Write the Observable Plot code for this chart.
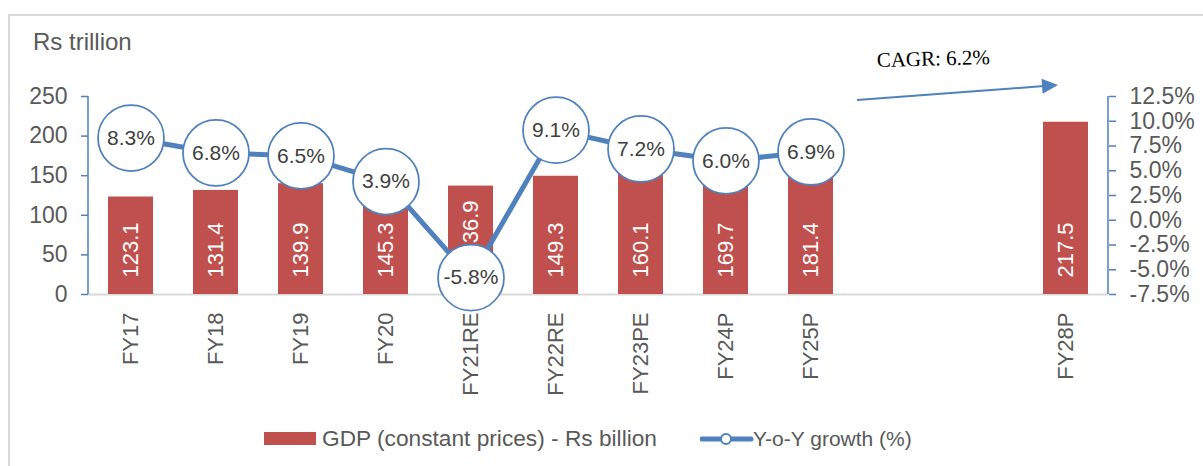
<!DOCTYPE html>
<html><head><meta charset="utf-8">
<script src="https://cdn.jsdelivr.net/npm/d3@7"></script>
<script src="https://cdn.jsdelivr.net/npm/@observablehq/plot@0.6"></script>
<style>
body{margin:0;background:#fff;}
#wrap{position:relative;width:1203px;height:466px;overflow:hidden;font-family:"Liberation Sans",Arial,sans-serif;background:#fff;}
.bl{position:absolute;left:8px;top:14px;width:2px;height:460px;background:#d9d9d9;}
.bt{position:absolute;left:8px;top:14px;width:1200px;height:2px;background:#d9d9d9;}
#unit{position:absolute;left:33px;top:30px;font-size:24px;line-height:24px;color:#595959;white-space:nowrap;}
#cagr{position:absolute;left:877px;top:50px;font-family:"Liberation Serif","Times New Roman",serif;font-size:21px;line-height:21px;color:#000;white-space:nowrap;transform:rotate(-1.5deg);transform-origin:left bottom;}
#chart{position:absolute;left:0;top:0;}
#legend{position:absolute;left:0;top:424px;width:1203px;height:30px;color:#595959;}
#legend .sw{position:absolute;left:264px;top:8px;width:52px;height:13px;background:#c0504d;}
#legend .t1{position:absolute;left:322px;top:3px;font-size:22.7px;line-height:23px;white-space:nowrap;}
#legend svg{position:absolute;left:700px;top:6px;}
#legend .t2{position:absolute;left:753px;top:3px;font-size:21px;line-height:23px;white-space:nowrap;}
</style></head><body>
<div id="wrap">
  <div class="bl"></div><div class="bt"></div>
  <div id="chart"></div>
  <div id="unit">Rs trillion</div>
  <div id="cagr">CAGR: 6.2%</div>
  <div id="legend">
    <div class="sw"></div><div class="t1">GDP (constant prices) - Rs billion</div>
    <svg width="54" height="18"><line x1="2" y1="9" x2="51" y2="9" stroke="#4f81bd" stroke-width="5" stroke-linecap="round"/><circle cx="26" cy="9" r="5" fill="#fff" stroke="#4f81bd" stroke-width="2"/></svg>
    <div class="t2">Y-o-Y growth (%)</div>
  </div>
</div>
<script>
// ---- data ----
const years  = ["FY17","FY18","FY19","FY20","FY21RE","FY22RE","FY23PE","FY24P","FY25P","FY26","FY27","FY28P"];
const xLabels = ["FY17","FY18","FY19","FY20","FY21RE","FY22RE","FY23PE","FY24P","FY25P","","","FY28P"];
const gdp    = [123.1,131.4,139.9,145.3,136.9,149.3,160.1,169.7,181.4,null,null,217.5];
const growth = [8.3,6.8,6.5,3.9,-5.8,9.1,7.2,6.0,6.9,null,null,null];
const gdpTicks = [0,50,100,150,200,250];
const growthTicks = [-7.5,-5,-2.5,0,2.5,5,7.5,10,12.5];
const cagr = {from:"FY25P", to:"FY28P", v1:240.5, v2:264.6};

// ---- build ----
const gMin = -7.5, gMax = 12.5, yMax = 250;
const gy = g => (g - gMin) / (gMax - gMin) * yMax;
const gInv = v => v / yMax * (gMax - gMin) + gMin;

const rows = years.map((year,i) => ({year, label:xLabels[i], gdp:gdp[i], growth:growth[i]}));
const bars = rows.filter(d => d.gdp != null);
const pts  = rows.filter(d => d.growth != null);
const raised = new Set(["FY21RE"]);

const BLUE = "#4f81bd", RED = "#c0504d", GREY = "#595959";

function axisLines(index, {x, y}, values, dim) {
  const g = d3.create("svg:g");
  const xl = dim.marginLeft, xr = dim.width - dim.marginRight;
  [xl, xr].forEach(px => g.append("line")
    .attr("x1", px).attr("x2", px).attr("y1", y(0)).attr("y2", y(yMax))
    .attr("stroke", BLUE).attr("stroke-width", 1.5));
  return g.node();
}

function cagrArrow(index, {x, y}, values, dim) {
  const bw = x.bandwidth ? x.bandwidth() / 2 : 0;
  let x1 = x(cagr.from) + bw, x2 = x(cagr.to) + bw, y1 = y(cagr.v1), y2 = y(cagr.v2);
  const dx = x2 - x1, dy = y2 - y1, L = Math.hypot(dx, dy), ux = dx / L, uy = dy / L;
  const sx = x1 + ux * 46.6, sy = y1 + uy * 46.6;
  const ex = x2 - ux * 7.5, ey = y2 - uy * 7.5;
  const head = 16, hw = 7.5;
  const bx = ex - ux * head, by = ey - uy * head;
  const g = d3.create("svg:g");
  g.append("line").attr("x1", sx).attr("y1", sy).attr("x2", bx + ux * 2).attr("y2", by + uy * 2)
    .attr("stroke", BLUE).attr("stroke-width", 2);
  g.append("polygon").attr("fill", BLUE)
    .attr("points", `${ex},${ey} ${bx - uy * hw},${by + ux * hw} ${bx + uy * hw},${by - ux * hw}`);
  return g.node();
}

const chart = Plot.plot({
  width: 1203, height: 410,
  marginLeft: 88, marginRight: 95, marginTop: 96, marginBottom: 116,
  x: {type: "band", domain: years, paddingInner: 0.47, paddingOuter: 0.235, axis: null},
  y: {domain: [0, yMax]},
  style: {fontFamily: '"Liberation Sans", Arial, sans-serif', background: "transparent", overflow: "visible"},
  marks: [
    Plot.ruleY([0], {stroke: "#d9d9d9", strokeWidth: 2}),
    Plot.barY(bars, {x: "year", y: "gdp", fill: RED}),
    Plot.text(bars.filter(d => !raised.has(d.year)), {x: "year", y: 0, text: d => d.gdp.toFixed(1), rotate: -90, textAnchor: "start", dy: -17, fill: "white", fontSize: 22}),
    Plot.text(bars.filter(d => raised.has(d.year)), {x: "year", y: 0, text: d => d.gdp.toFixed(1), rotate: -90, textAnchor: "start", dy: -39, fill: "white", fontSize: 22}),
    Plot.line(pts, {x: "year", y: d => gy(d.growth), stroke: BLUE, strokeWidth: 5}),
    Plot.dot(pts, {x: "year", y: d => gy(d.growth), r: 33, fill: "white", stroke: BLUE, strokeWidth: 1.75}),
    Plot.text(pts, {x: "year", y: d => gy(d.growth), text: d => d.growth.toFixed(1) + "%", fontSize: 21, fill: "#404040"}),
    Plot.text(rows, {x: "year", y: 0, text: "label", rotate: -90, textAnchor: "end", dy: 18, fontSize: 22, fill: GREY}),
    Plot.axisY(gdpTicks, {anchor: "left", tickSize: 7, tickPadding: 14, stroke: BLUE, strokeWidth: 1.5, color: GREY, fontSize: 23, label: null}),
    Plot.axisY(growthTicks.map(gy), {anchor: "right", tickSize: 7, tickPadding: 14, stroke: BLUE, strokeWidth: 1.5, color: GREY, fontSize: 23, label: null, tickFormat: v => gInv(v).toFixed(1) + "%"}),
    axisLines,
    cagrArrow
  ]
});
document.getElementById("chart").appendChild(chart);
</script>
</body></html>
